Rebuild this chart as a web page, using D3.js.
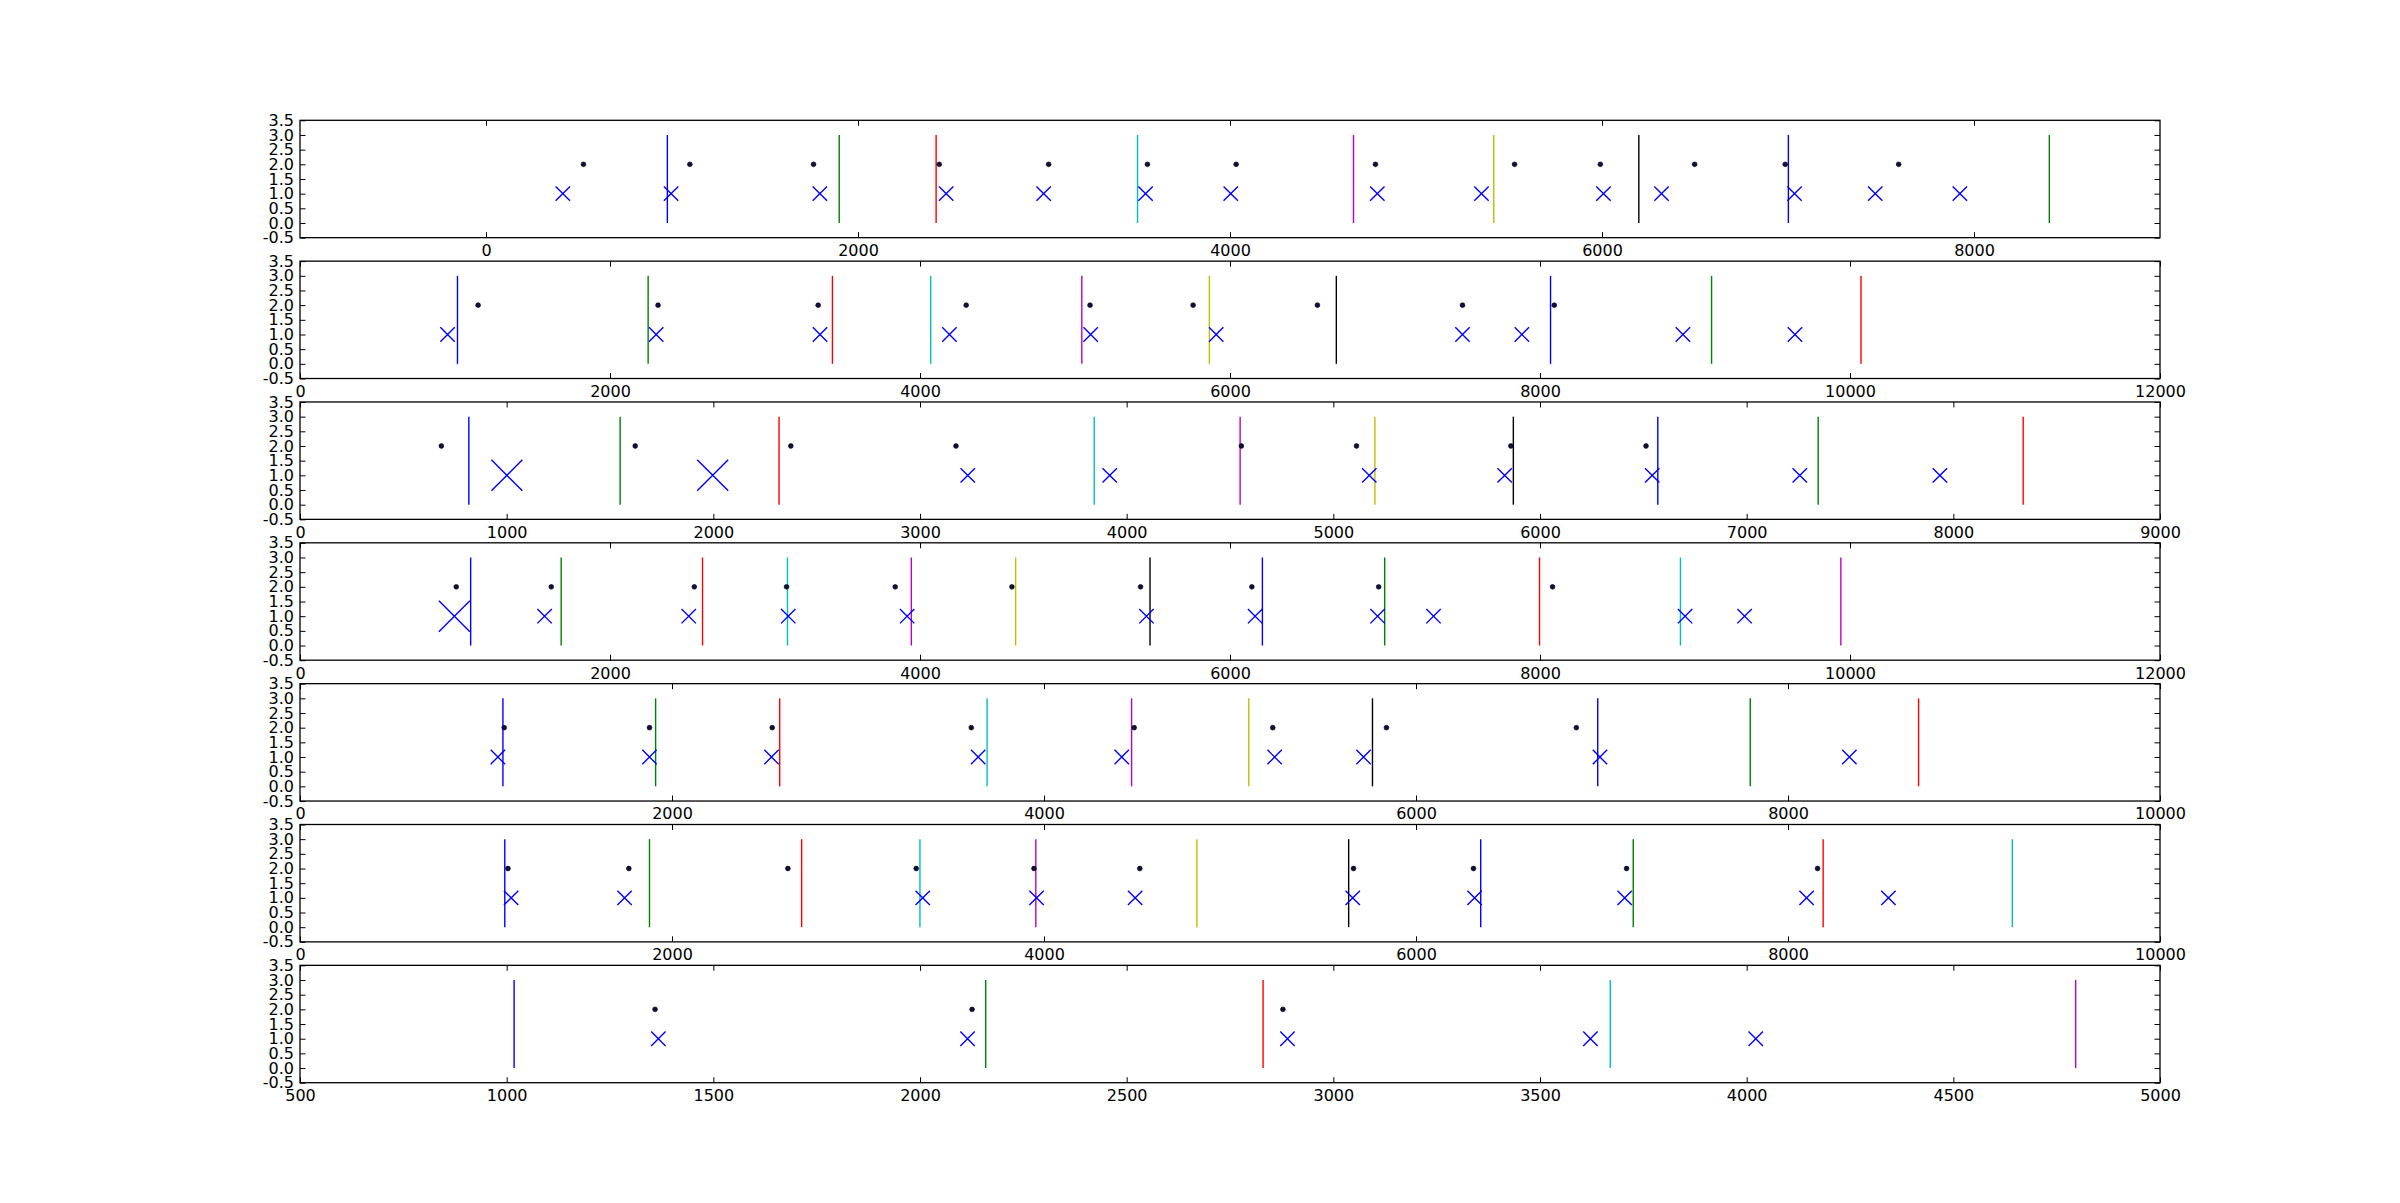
<!DOCTYPE html>
<html><head><meta charset="utf-8">
<script src="https://cdn.jsdelivr.net/npm/d3@7"></script>
<style>
html,body{margin:0;padding:0;background:#fff;}
svg text{font-family:"DejaVu Sans",sans-serif;}
</style>
</head><body>
<svg id="chart" width="2400" height="1203"></svg>
<script>
// ---- data ----
const xDomains = [[-1000, 9000], [0, 12000], [0, 9000], [0, 12000], [0, 10000], [0, 10000], [500, 5000]];
const xTickSteps = [2000, 2000, 1000, 2000, 2000, 2000, 500];
const yTicks = [-0.5, 0.0, 0.5, 1.0, 1.5, 2.0, 2.5, 3.0, 3.5];
const lineColors = ["#0000ff", "#008000", "#ff0000", "#00bfbf", "#bf00bf", "#bfbf00", "#000000"];

const lines1 = [975, 1899, 2420, 3503, 4664, 5418, 6198, 7002, 8405];
const lines2 = [1016, 2246, 3435, 4069, 5044, 5867, 6686, 8068, 9107, 10071];
const lines3 = [817, 1549, 2318, 3843, 4549, 5201, 5871, 6570, 7346, 8338];
const lines4 = [1101, 1685, 2597, 3145, 3944, 4617, 5484, 6209, 6998, 7997, 8906, 9941];
const lines5 = [1091, 1912, 2579, 3694, 4471, 5101, 5766, 6977, 7797, 8702];
const lines6 = [1101, 1879, 2697, 3333, 3956, 4822, 5638, 6348, 7168, 8189, 9206];
const lines7 = [1018, 2159, 2830, 3670, 4796];

const dots1 = [524, 1096, 1761, 2437, 3025, 3556, 4033, 4782, 5530, 5991, 6498, 6985, 7595];
const dots2 = [1149, 2310, 3343, 4298, 5097, 5762, 6564, 7500, 8092];
const dots3 = [684, 1622, 2375, 3174, 4555, 5112, 5859, 6513];
const dots4 = [1008, 1621, 2544, 3139, 3840, 4593, 5423, 6141, 6959, 8081];
const dots5 = [1098, 1879, 2539, 3609, 4485, 5230, 5841, 6862];
const dots6 = [1118, 1768, 2623, 3313, 3946, 4515, 5664, 6309, 7132, 8159];
const dots7 = [1359, 2126, 2878];

const crosses1 = [413, 995, 1795, 2474, 2998, 3546, 4004, 4792, 5352, 6008, 6320, 7035, 7469, 7924];
const crosses2 = [952, 2298, 3355, 4190, 5101, 5911, 7500, 7883, 8922, 9645];
const crosses3 = [3231, 3918, 5174, 5829, 6543, 7257, 7935];
const crosses4 = [1578, 2508, 3150, 3917, 5461, 6162, 6952, 7313, 8936, 9320];
const crosses5 = [1064, 1879, 2535, 3646, 4418, 5240, 5718, 6989, 8330];
const crosses6 = [1135, 1745, 3348, 3960, 4490, 5660, 6315, 7122, 8100, 8540];
const crosses7 = [1367, 2115, 2889, 3622, 4022];

const bigCrosses3 = [1001, 1997];
const bigCrosses4 = [996];

const linesAll = [lines1, lines2, lines3, lines4, lines5, lines6, lines7];
const dotsAll = [dots1, dots2, dots3, dots4, dots5, dots6, dots7];
const crossesAll = [crosses1, crosses2, crosses3, crosses4, crosses5, crosses6, crosses7];
const bigCrossesAll = [[], [], bigCrosses3, bigCrosses4, [], [], []];

// ---- layout ----
const W = 2400, H = 1203;
const left = 300, right = 2160;
const figTop = 120.3, axH = 117.37, step = 140.84;
const tickLen = 5.5, fontSize = 16;

const svg = d3.select("#chart");
svg.append("rect").attr("width", W).attr("height", H).attr("fill", "#fff");

const yFmt = v => d3.format(".1f")(v).replace("\u2212", "-");

function crossPath(cx, cy, h) {
  return `M${cx - h},${cy - h}L${cx + h},${cy + h}M${cx - h},${cy + h}L${cx + h},${cy - h}`;
}

for (let i = 0; i < 7; i++) {
  const top = figTop + i * step;
  const bottom = top + axH;
  const x = d3.scaleLinear().domain(xDomains[i]).range([left, right]);
  const y = d3.scaleLinear().domain([-0.5, 3.5]).range([bottom, top]);
  const xt = d3.range(Math.ceil(xDomains[i][0] / xTickSteps[i]) * xTickSteps[i], xDomains[i][1] + 1, xTickSteps[i]);

  const g = svg.append("g");

  // vertical lines
  g.selectAll("line.v").data(linesAll[i]).join("line")
    .attr("class", "v")
    .attr("x1", d => x(d)).attr("x2", d => x(d))
    .attr("y1", y(0)).attr("y2", y(3))
    .attr("stroke", (d, j) => lineColors[j % lineColors.length])
    .attr("stroke-width", 1.4);

  // blue crosses at y=1
  g.selectAll("path.x").data(crossesAll[i]).join("path")
    .attr("class", "x")
    .attr("d", d => crossPath(x(d), y(1), 7.2))
    .attr("stroke", "#0000ff").attr("stroke-width", 1.4).attr("fill", "none");

  g.selectAll("path.bx").data(bigCrossesAll[i]).join("path")
    .attr("class", "bx")
    .attr("d", d => crossPath(x(d), y(1), 15.5))
    .attr("stroke", "#0000ff").attr("stroke-width", 1.4).attr("fill", "none");

  // dots at y=2
  g.selectAll("circle.d").data(dotsAll[i]).join("circle")
    .attr("class", "d")
    .attr("cx", d => x(d)).attr("cy", y(2)).attr("r", 2.4)
    .attr("fill", "#101040").attr("stroke", "#000").attr("stroke-width", 0.6);

  // axes
  const ax = (axis, tx, ty) => {
    const a = svg.append("g").attr("transform", `translate(${tx},${ty})`).call(axis);
    a.select(".domain").remove();
    a.selectAll(".tick line").attr("stroke", "#000").attr("stroke-width", 1);
    a.selectAll(".tick text").attr("font-size", fontSize).attr("fill", "#000")
      .attr("font-family", "DejaVu Sans");
    return a;
  };
  ax(d3.axisBottom(x).tickValues(xt).tickFormat(d3.format("d")).tickSizeInner(-tickLen).tickSizeOuter(0).tickPadding(7), 0, bottom);
  ax(d3.axisTop(x).tickValues(xt).tickFormat("").tickSizeInner(-tickLen).tickSizeOuter(0), 0, top);
  ax(d3.axisLeft(y).tickValues(yTicks).tickFormat(yFmt).tickSizeInner(-tickLen).tickSizeOuter(0).tickPadding(6), left, 0);
  ax(d3.axisRight(y).tickValues(yTicks).tickFormat("").tickSizeInner(-tickLen).tickSizeOuter(0), right, 0);

  // frame
  svg.append("rect").attr("x", left).attr("y", top).attr("width", right - left).attr("height", axH)
    .attr("fill", "none").attr("stroke", "#000").attr("stroke-width", 1.3);
}
</script>
</body></html>
